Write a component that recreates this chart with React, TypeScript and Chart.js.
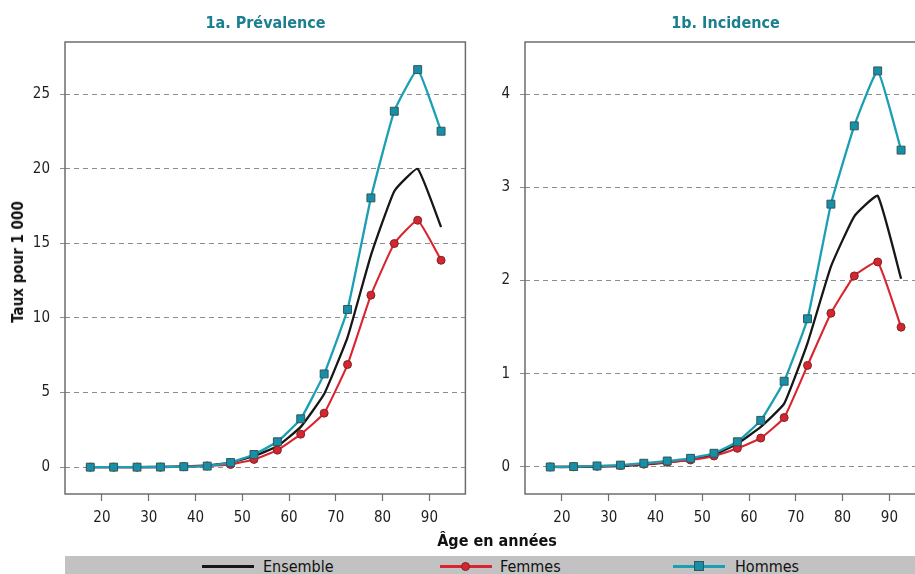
import React, { useEffect, useRef } from "react";
import { Chart, registerables } from "chart.js";

Chart.register(...registerables);

// ---- Data ----
const ages = [17.5, 22.5, 27.5, 32.5, 37.5, 42.5, 47.5, 52.5, 57.5, 62.5, 67.5, 72.5, 77.5, 82.5, 87.5, 92.5];
const xTickLabels = [20, 30, 40, 50, 60, 70, 80, 90];

const prevEnsemble = [0, 0, 0, 0.02, 0.05, 0.12, 0.3, 0.75, 1.4, 2.7, 4.9, 8.7, 14.2, 18.5, 20.0, 16.1];
const prevFemmes = [0, 0, 0, 0, 0.03, 0.08, 0.18, 0.52, 1.14, 2.21, 3.62, 6.88, 11.53, 14.99, 16.55, 13.87];
const prevHommes = [0, 0, 0, 0.01, 0.03, 0.07, 0.31, 0.85, 1.7, 3.24, 6.25, 10.57, 18.05, 23.86, 26.65, 22.52];

const incEnsemble = [0, 0, 0.005, 0.01, 0.025, 0.05, 0.08, 0.13, 0.25, 0.43, 0.68, 1.33, 2.15, 2.69, 2.91, 2.02];
const incFemmes = [0, 0.003, 0.008, 0.015, 0.03, 0.05, 0.075, 0.118, 0.2, 0.31, 0.53, 1.09, 1.65, 2.05, 2.2, 1.5];
const incHommes = [0, 0.004, 0.011, 0.02, 0.04, 0.064, 0.093, 0.147, 0.27, 0.5, 0.92, 1.59, 2.82, 3.66, 4.25, 3.4];

const seriesNames = ["Ensemble", "Femmes", "Hommes"];
const panelTitles = ["1a. Prévalence", "1b. Incidence"];
const yAxisTitle = "Taux pour 1 000";
const xAxisTitle = "Âge en années";

const FONT = "'Liberation Sans Narrow', 'DejaVu Sans Condensed', 'Arial Narrow', sans-serif";
const C_ENS = "#171717";
const C_FEM = "#da2530";
const C_HOM = "#1a9fb4";
const TITLE_C = "#1b7f8f";

const boxPlugin = {
  id: "box",
  afterDatasetsDraw(chart: any) {
    const { ctx, chartArea: a } = chart;
    ctx.save();
    ctx.strokeStyle = "#6e6e6e";
    ctx.lineWidth = 1.5;
    ctx.strokeRect(a.left, a.top, a.right - a.left, a.bottom - a.top);
    ctx.restore();
  },
};

function Panel(props: { left: number; width: number; ens: number[]; fem: number[]; hom: number[]; yMin: number; yMax: number; step: number }) {
  const ref = useRef<HTMLCanvasElement | null>(null);
  useEffect(() => {
    if (!ref.current) return;
    const pts = (arr: number[]) => arr.map((v, i) => ({ x: ages[i], y: v }));
    const chart = new Chart(ref.current, {
      type: "line",
      data: {
        datasets: [
          {
            label: seriesNames[2],
            data: pts(props.hom),
            borderColor: C_HOM,
            borderWidth: 2.3,
            pointStyle: "rect",
            pointRadius: 5.6,
            pointBackgroundColor: "#1690a7",
            pointBorderColor: "#34555b",
            pointBorderWidth: 1,
            tension: 0.12,
            order: 0,
          },
          {
            label: seriesNames[1],
            data: pts(props.fem),
            borderColor: C_FEM,
            borderWidth: 2.1,
            pointStyle: "circle",
            pointRadius: 4,
            pointBackgroundColor: "#d62530",
            pointBorderColor: "#7d2424",
            pointBorderWidth: 1,
            tension: 0.12,
            order: 1,
          },
          {
            label: seriesNames[0],
            data: pts(props.ens),
            borderColor: C_ENS,
            borderWidth: 2.3,
            pointRadius: 0,
            tension: 0.12,
            order: 2,
          },
        ],
      },
      options: {
        animation: false,
        responsive: false,
        devicePixelRatio: 1,
        layout: { padding: { top: 42, right: 1, left: 0, bottom: 0 } },
        plugins: { legend: { display: false }, tooltip: { enabled: false }, title: { display: false } },
        scales: {
          x: {
            type: "linear",
            min: 12.1,
            max: 97.7,
            afterFit: (s: any) => { s.height = 46; },
            afterBuildTicks: (s: any) => { s.ticks = xTickLabels.map((v) => ({ value: v })); },
            ticks: { stepSize: 10, includeBounds: false, color: "#1e1e1e", font: { family: FONT, size: 15 }, padding: 8, maxRotation: 0 },
            grid: { drawOnChartArea: false, drawTicks: true, tickLength: 7, tickColor: "#6e6e6e", tickWidth: 1.2 },
            border: { display: false },
          },
          y: {
            type: "linear",
            min: props.yMin,
            max: props.yMax,
            afterFit: (s: any) => { s.width = 65; },
            ticks: { stepSize: props.step, includeBounds: false, color: "#1e1e1e", font: { family: FONT, size: 15 }, padding: 10 },
            grid: { color: "#8c8c8c", lineWidth: 1, tickLength: 5, drawTicks: true },
            border: { display: false, dash: [5, 4] },
          },
        },
      },
      plugins: [boxPlugin],
    } as any);
    return () => chart.destroy();
  }, []);
  return (
    <canvas ref={ref} width={props.width} height={540} style={{ position: "absolute", left: props.left, top: 0, width: props.width, height: 540 }} />
  );
}

export default function App() {
  const titleStyle: React.CSSProperties = {
    position: "absolute",
    top: 13,
    width: 401,
    textAlign: "center",
    fontFamily: FONT,
    fontWeight: "bold",
    fontSize: 16,
    color: TITLE_C,
    lineHeight: "20px",
  };
  const legText: React.CSSProperties = {
    position: "absolute",
    top: 1,
    fontFamily: FONT,
    fontSize: 16,
    color: "#111",
    lineHeight: "20px",
  };
  return (
    <div style={{ position: "absolute", left: 0, top: 0, width: 915, height: 574, overflow: "hidden", background: "#fff" }}>
      <Panel left={0} width={472} ens={prevEnsemble} fem={prevFemmes} hom={prevHommes} yMin={-1.8} yMax={28.5} step={5} />
      <Panel left={460} width={472} ens={incEnsemble} fem={incFemmes} hom={incHommes} yMin={-0.29} yMax={4.56} step={1} />
      <div style={{ ...titleStyle, left: 65 }}>{panelTitles[0]}</div>
      <div style={{ ...titleStyle, left: 525 }}>{panelTitles[1]}</div>
      <div
        style={{
          position: "absolute",
          left: 18,
          top: 262,
          transform: "translate(-50%, -50%) rotate(-90deg)",
          fontFamily: FONT,
          fontWeight: "bold",
          fontSize: 15,
          color: "#111",
          whiteSpace: "nowrap",
        }}
      >
        {yAxisTitle}
      </div>
      <div
        style={{
          position: "absolute",
          left: 497,
          top: 540,
          transform: "translate(-50%, -50%)",
          fontFamily: FONT,
          fontWeight: "bold",
          fontSize: 16,
          color: "#111",
          whiteSpace: "nowrap",
        }}
      >
        {xAxisTitle}
      </div>
      <div style={{ position: "absolute", left: 65, top: 556, width: 850, height: 18, background: "#c2c2c2" }}>
        <div style={{ position: "absolute", left: 137, top: 9, width: 52, height: 3, background: C_ENS }} />
        <div style={{ ...legText, left: 198 }}>{seriesNames[0]}</div>
        <div style={{ position: "absolute", left: 375, top: 9, width: 52, height: 3, background: C_FEM }} />
        <div style={{ position: "absolute", left: 396, top: 6, width: 7, height: 7, borderRadius: "50%", background: "#d62530", border: "1px solid #7d2424" }} />
        <div style={{ ...legText, left: 435 }}>{seriesNames[1]}</div>
        <div style={{ position: "absolute", left: 608, top: 9, width: 52, height: 3, background: C_HOM }} />
        <div style={{ position: "absolute", left: 629, top: 5, width: 8, height: 8, background: "#1690a7", border: "1px solid #34555b" }} />
        <div style={{ ...legText, left: 670 }}>{seriesNames[2]}</div>
      </div>
    </div>
  );
}
